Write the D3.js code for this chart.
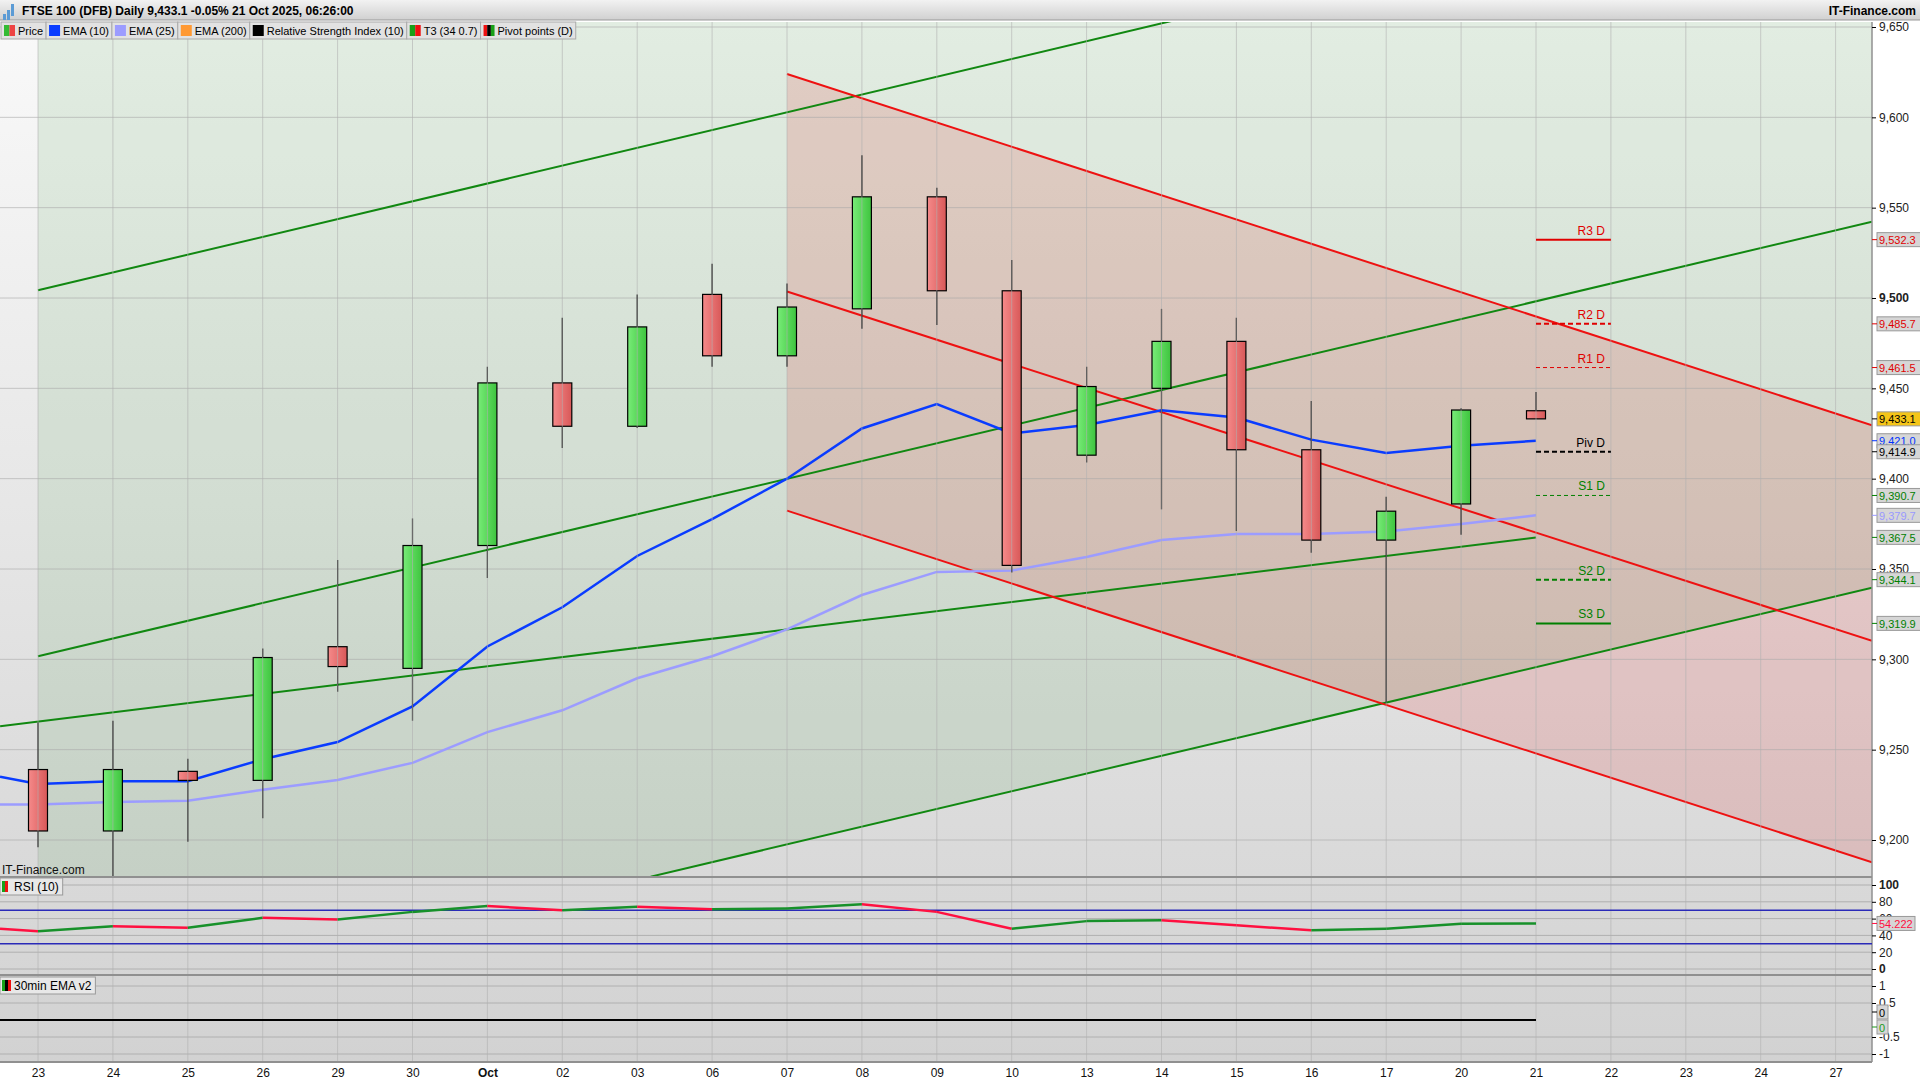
<!DOCTYPE html>
<html><head><meta charset="utf-8">
<script src="https://cdn.jsdelivr.net/npm/d3@7"></script>
<style>body{margin:0;background:#fff;font-family:"Liberation Sans",Arial,sans-serif;}</style>
</head><body><div id="chart"></div>
<script>
var dates = ["23","24","25","26","29","30","Oct","02","03","06","07","08","09","10","13","14","15","16","17","20","21","22","23","24","27"];
var opens  = [9239,9205,9238,9233,9307,9295,9363,9453,9429,9502,9468,9494,9556,9504,9413,9450,9476,9416,9366,9386,9437.6];
var highs  = [9265,9266,9245,9306,9355,9378,9462,9489,9502,9519,9508,9579,9561,9521,9462,9494,9489,9443,9390,9439,9448];
var lows   = [9196,9180,9199,9212,9282,9266,9345,9417,9428,9462,9462,9483,9485,9348,9409,9383,9371,9359,9276,9369,9433];
var closes = [9205,9239,9233,9301,9296,9363,9453,9429,9484,9468,9495,9556,9504,9352,9451,9476,9416,9366,9382,9438,9433.1];
var ema10 = [9231,9232.5,9232.5,9244.7,9254.2,9273.9,9307.1,9328.8,9357.2,9377.6,9400,9427.8,9441.3,9425,9429.7,9437.9,9433.8,9421.6,9414.2,9418.2,9421];
var ema25 = [9219.7,9221,9221.7,9227.8,9233.2,9242.7,9259.7,9271.8,9289.5,9301.7,9316.6,9335.6,9348.4,9349.1,9356.6,9366.1,9369.4,9369.4,9370.8,9374.9,9379.7];
var rsi = [45,51,49,61,59,68,75,70,74,71,72,77,68,48,57,58,52,46,48,54,54.222];
var priceTicks = [9200,9250,9300,9350,9400,9450,9500,9550,9600,9650];
// trend lines: [x1,price1,x2,price2]
var greenLines = [[0,9504.3,15.07,9652.7],[0,9301.7,24.42,9541.6],[8.18,9179.7,24.42,9339]];
var greenShort = [[-0.506,9263,20,9367.4]];
var redLines = [[10,9624,24.42,9430.4],[10,9503.6,24.42,9311.2],[10,9382.3,24.42,9188.5]];
var pivots = [["R3 D",9532.3,"#e00000",2,null],["R2 D",9485.7,"#e00000",2,"5,3"],["R1 D",9461.5,"#e00000",1,"4,3"],
  ["Piv D",9414.9,"#000",2,"5,3"],["S1 D",9390.7,"#008000",1,"4,3"],["S2 D",9344.1,"#008000",2,"5,3"],["S3 D",9319.9,"#008000",2,null]];
var priceLabels = [[9532.3,"#e00000"],[9485.7,"#e00000"],[9461.5,"#e00000"],[9433.1,"#000"],[9421.0,"#0033ff"],[9414.9,"#000"],
  [9390.7,"#008000"],[9379.7,"#9999ff"],[9367.5,"#008000"],[9344.1,"#008000"],[9319.9,"#008000"]];

var W = 1920, H = 1080, R = 1872;
var svg = d3.select("#chart").append("svg").attr("width", W).attr("height", H);
var defs = svg.append("defs");
function grad(id, c1, c2, vertical) {
  var g = defs.append("linearGradient").attr("id", id);
  if (vertical) g.attr("x1",0).attr("y1",0).attr("x2",0).attr("y2",1);
  g.append("stop").attr("offset","0%").attr("stop-color",c1);
  g.append("stop").attr("offset","100%").attr("stop-color",c2);
}
grad("bg","#f9f9f9","#d2d2d2",true);
grad("gup","#78ec78","#3ec43e",false);
grad("gdn","#f58a8a","#d85858",false);
grad("hdr","#f2f2f2","#d0d0d0",true);
defs.append("clipPath").attr("id","mainclip").append("rect").attr("x",0).attr("y",22).attr("width",R).attr("height",855);

var x = d3.scaleLinear().domain([0,1]).range([38,112.9]);
var y = d3.scaleLinear().domain([9200,9650]).range([840,27]);
var yr = d3.scaleLinear().domain([0,100]).range([969,885]);
var ye = d3.scaleLinear().domain([-1,1]).range([1054,986]);

// backgrounds
svg.append("rect").attr("x",0).attr("y",22).attr("width",R).attr("height",1040).attr("fill","url(#bg)");
svg.append("rect").attr("x",R).attr("y",22).attr("width",W-R).attr("height",1058).attr("fill","#fff");
svg.append("rect").attr("x",0).attr("y",1062).attr("width",R).attr("height",18).attr("fill","#fff");

var main = svg.append("g").attr("clip-path","url(#mainclip)");
function py(l, t) { return l[1] + (l[3]-l[1])*(t-l[0])/(l[2]-l[0]); }
var xr = x.invert(R);
var gb = greenLines[2];
main.append("path").attr("fill","rgba(0,120,0,0.09)")
  .attr("d", d3.line()([[x(0),0],[x(xr),0],[x(xr),y(py(gb,xr))],[x(gb[0]),y(gb[1])],[x(0),y(py(gb,0))+200]]));
main.append("path").attr("fill","rgba(225,0,0,0.13)")
  .attr("d", d3.line()([[x(10),y(redLines[0][1])],[x(xr),y(py(redLines[0],xr))],[x(xr),y(py(redLines[2],xr))],[x(10),y(redLines[2][1])]]));

// grid
dates.forEach(function(d,i){
  svg.append("line").attr("x1",x(i)).attr("x2",x(i)).attr("y1",22).attr("y2",1062).attr("stroke","#b0b0b0").attr("stroke-opacity",0.6);
});
priceTicks.forEach(function(p){
  main.append("line").attr("x1",0).attr("x2",R).attr("y1",y(p)).attr("y2",y(p)).attr("stroke","#a8a8a8").attr("stroke-opacity",0.6);
});
d3.range(0,101,20).forEach(function(v){
  svg.append("line").attr("x1",0).attr("x2",R).attr("y1",yr(v)).attr("y2",yr(v)).attr("stroke","#b0b0b0");
});
[-1,-0.5,0.5,1].forEach(function(v){
  svg.append("line").attr("x1",0).attr("x2",R).attr("y1",ye(v)).attr("y2",ye(v)).attr("stroke","#b0b0b0");
});

// trend lines
function drawLine(l, col) {
  main.append("line").attr("x1",x(l[0])).attr("y1",y(l[1])).attr("x2",x(l[2])).attr("y2",y(l[3]))
    .attr("stroke",col).attr("stroke-width",2);
}
greenLines.forEach(function(l){ drawLine([l[0],l[1],xr,py(l,xr)],"#118811"); });
greenShort.forEach(function(l){ drawLine(l,"#118811"); });
redLines.forEach(function(l){ drawLine([l[0],l[1],xr,py(l,xr)],"#ee1111"); });

// EMAs
var lineGen = d3.line().x(function(d,i){return x(i);}).y(function(d){return y(d);});
main.append("path").datum(ema25).attr("d",lineGen).attr("fill","none").attr("stroke","#9c9cff").attr("stroke-width",2.5);
main.append("path").datum(ema10).attr("d",lineGen).attr("fill","none").attr("stroke","#0a3cff").attr("stroke-width",2.5);
main.append("line").attr("x1",0).attr("y1",y(9235)).attr("x2",x(0)).attr("y2",y(ema10[0])).attr("stroke","#0a3cff").attr("stroke-width",2.5);
main.append("line").attr("x1",0).attr("y1",y(9219.7)).attr("x2",x(0)).attr("y2",y(ema25[0])).attr("stroke","#9c9cff").attr("stroke-width",2.5);

// candles
var cw = 19;
opens.forEach(function(o,i){
  var c = closes[i], up = c >= o;
  main.append("line").attr("x1",x(i)).attr("x2",x(i)).attr("y1",y(highs[i])).attr("y2",y(lows[i])).attr("stroke","#000").attr("stroke-width",1.2);
  main.append("rect").attr("x",x(i)-cw/2).attr("width",cw)
    .attr("y",y(Math.max(o,c))).attr("height",Math.max(2,Math.abs(y(o)-y(c))))
    .attr("fill",up?"url(#gup)":"url(#gdn)").attr("stroke","#000").attr("stroke-width",1.2);
});

// pivots
pivots.forEach(function(p){
  var x1 = x(20), x2 = x(21);
  svg.append("line").attr("x1",x1).attr("x2",x2).attr("y1",y(p[1])).attr("y2",y(p[1]))
    .attr("stroke",p[2]).attr("stroke-width",p[3]).attr("stroke-dasharray",p[4]);
  svg.append("text").attr("x",x2-6).attr("y",y(p[1])-5).attr("text-anchor","end")
    .attr("font-size",12).attr("fill",p[2]).text(p[0]);
});

// panel separators
[877,975,1062].forEach(function(v){
  svg.append("line").attr("x1",0).attr("x2",R).attr("y1",v).attr("y2",v).attr("stroke","#909090").attr("stroke-width",2);
});
svg.append("line").attr("x1",R).attr("x2",R).attr("y1",22).attr("y2",1062).attr("stroke","#909090").attr("stroke-width",1.5);

// RSI
[70,30].forEach(function(v){
  svg.append("line").attr("x1",0).attr("x2",R).attr("y1",yr(v)).attr("y2",yr(v)).attr("stroke","#2a2ab8").attr("stroke-width",1.5);
});
svg.append("line").attr("x1",0).attr("x2",x(0)).attr("y1",yr(48)).attr("y2",yr(rsi[0])).attr("stroke","#ff1040").attr("stroke-width",2.5);
rsi.forEach(function(v,i){
  if (i === 0) return;
  svg.append("line").attr("x1",x(i-1)).attr("x2",x(i)).attr("y1",yr(rsi[i-1])).attr("y2",yr(v))
    .attr("stroke", v >= rsi[i-1] ? "#17912a" : "#ff1040").attr("stroke-width",2.5);
});
// 30min EMA
svg.append("line").attr("x1",0).attr("x2",x(20)).attr("y1",ye(0)).attr("y2",ye(0)).attr("stroke","#000").attr("stroke-width",2);

// axes (right)
var axG = svg.append("g").attr("transform","translate("+R+",0)");
axG.call(d3.axisRight(y).tickValues(priceTicks).tickSize(4).tickFormat(d3.format(",")));
axG.selectAll("text").attr("font-size",12).attr("font-weight",function(d){return d===9500?"bold":null;}).attr("fill","#222");
var axR = svg.append("g").attr("transform","translate("+R+",0)");
axR.call(d3.axisRight(yr).tickValues([0,20,40,60,80,100]).tickSize(4));
axR.selectAll("text").attr("font-size",12).attr("font-weight",function(d){return (d===0||d===100)?"bold":null;}).attr("fill","#222");
var axE = svg.append("g").attr("transform","translate("+R+",0)");
axE.call(d3.axisRight(ye).tickValues([-1,-0.5,0.5,1]).tickSize(4).tickFormat(function(d){return String(d);}));
axE.selectAll("text").attr("font-size",12).attr("fill","#222");
svg.selectAll(".domain").remove();

// bottom date axis
var axX = svg.append("g").attr("transform","translate(0,1062)");
axX.call(d3.axisBottom(x).tickValues(d3.range(dates.length)).tickSize(0).tickFormat(function(i){return dates[i];}));
axX.select(".domain").remove();
axX.selectAll("text").attr("font-size",12).attr("dy","1em").attr("fill","#111")
  .attr("font-weight",function(i){return dates[i]==="Oct"?"bold":null;});

// value labels
function valBox(v, yy, col, bg, w) {
  var g = svg.append("g").attr("transform","translate("+(R+5)+","+yy+")");
  g.append("rect").attr("x",0).attr("y",-7).attr("width",w||44).attr("height",14).attr("fill",bg||"#d6d6d6").attr("stroke","#999");
  g.append("text").attr("x",2).attr("y",4.5).attr("font-size",11).attr("fill",col).text(v);
  svg.append("line").attr("x1",R).attr("x2",R+5).attr("y1",yy).attr("y2",yy).attr("stroke",col);
}
priceLabels.forEach(function(p){
  valBox(d3.format(",.1f")(p[0]), y(p[0]), p[1], p[0]===9433.1?"#f5c518":null);
});
valBox("54.222", yr(54.222), "#ff1040", null, 38);
valBox("0", ye(0)-8, "#000", null, 11);
valBox("0", ye(0)+7, "#1a9a1a", null, 11);

// header
svg.append("rect").attr("x",0).attr("y",0).attr("width",W).attr("height",20).attr("fill","url(#hdr)");
svg.append("line").attr("x1",0).attr("x2",W).attr("y1",20).attr("y2",20).attr("stroke","#999");
svg.append("text").attr("x",22).attr("y",15).attr("font-size",12).attr("font-weight","bold").text("FTSE 100 (DFB) Daily 9,433.1 -0.05% 21 Oct 2025, 06:26:00");
svg.append("text").attr("x",W-4).attr("y",15).attr("text-anchor","end").attr("font-size",12).attr("font-weight","bold").text("IT-Finance.com");
[[3,14,6],[7,10,10],[11,4,12]].forEach(function(b){
  svg.append("rect").attr("x",b[0]).attr("y",b[1]).attr("width",3).attr("height",b[2]).attr("fill","#5b9bd5");
});

// legend
var legend = [["Price",["#33bb33","#ee4444"]],["EMA (10)",["#0a3cff"]],["EMA (25)",["#9c9cff"]],["EMA (200)",["#ff9933"]],
  ["Relative Strength Index (10)",["#000"]],["T3 (34 0.7)",["#18a018","#ee1111"]],["Pivot points (D)",["#ee1111","#000","#18a018"]]];
var lx = 1;
legend.forEach(function(l){
  var g = svg.append("g").attr("transform","translate("+lx+",22)");
  var r = g.append("rect").attr("height",17).attr("fill","#e2e2e2").attr("stroke","#aaa");
  var n = l[1].length, sw = 11/n;
  l[1].forEach(function(c,k){ g.append("rect").attr("x",3+k*sw).attr("y",3).attr("width",sw).attr("height",11).attr("fill",c); });
  var t = g.append("text").attr("x",17).attr("y",13).attr("font-size",11).text(l[0]);
  var tw = t.node().getComputedTextLength() + 20;
  r.attr("width",tw);
  lx += tw;
});
function panelTag(txt, yy, cols) {
  var g = svg.append("g").attr("transform","translate(0,"+yy+")");
  var r = g.append("rect").attr("height",17).attr("fill","#e8e8e8").attr("stroke","#999");
  cols.forEach(function(c,k){ g.append("rect").attr("x",2+k*3).attr("y",3).attr("width",3).attr("height",11).attr("fill",c); });
  var t = g.append("text").attr("x",14).attr("y",13).attr("font-size",12).text(txt);
  r.attr("width",t.node().getComputedTextLength()+18);
}
panelTag("RSI (10)", 878, ["#18a018","#ee1111"]);
panelTag("30min EMA v2", 977, ["#18a018","#000","#ee1111"]);
svg.append("text").attr("x",2).attr("y",874).attr("font-size",12).attr("fill","#111").text("IT-Finance.com");
</script></body></html>
